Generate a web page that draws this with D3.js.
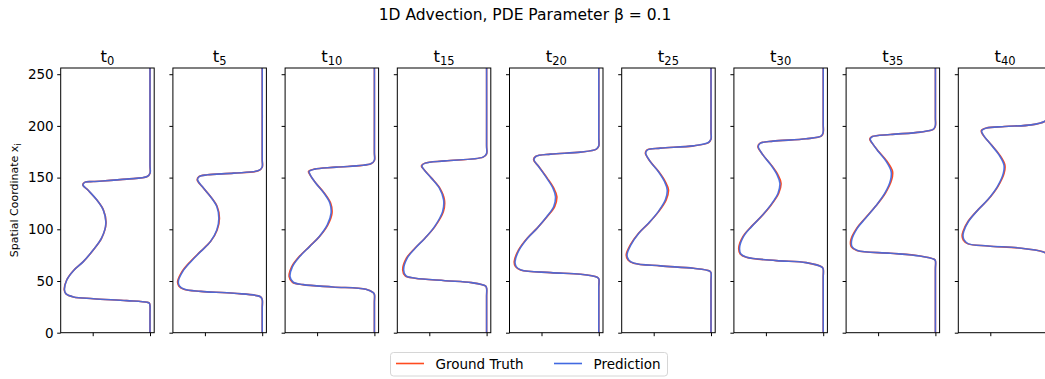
<!DOCTYPE html>
<html>
<head>
<meta charset="utf-8">
<script src="https://cdn.jsdelivr.net/npm/d3@7"></script>
<style>
  body { margin: 0; background: #fff; }
  svg { display: block; }
  text { font-family: "DejaVu Sans", sans-serif; fill: #000; }
</style>
</head>
<body>
<svg id="chart" width="1045" height="379"></svg>
<script>
// Time steps shown, one panel each
const timeSteps = [0, 5, 10, 15, 20, 25, 30, 35, 40];

// Spatial coordinates sampled along each profile (one list per time step)
const spatialPoints = [
  [0, 18, 26, 28.5, 29.4, 31, 32.9, 34.6, 37.5, 41.3, 51, 60, 68.7, 80, 91.4, 105.9, 118.8, 128.5, 137.5, 143, 145.6, 146.2, 148.5, 151, 154.3, 162, 256],
  [0, 24, 32, 34.8, 38.1, 40, 42, 45.2, 49.4, 59.1, 68.7, 78.4, 88.1, 99.4, 110.7, 122, 131.7, 141.3, 147.8, 151, 152.7, 154.3, 156.8, 160, 168, 256],
  [0, 29, 37, 38.7, 42, 44.2, 46.5, 48.8, 54.2, 63.9, 73.6, 83.3, 92.9, 104.3, 115.6, 125.3, 134.9, 144.6, 152.7, 155.9, 158.2, 160.1, 163.3, 166.5, 174.5, 256],
  [0, 35, 43, 45.2, 48.4, 50.3, 52.7, 54.9, 60.7, 72, 81.7, 91.4, 102.6, 117.1, 128.5, 139.8, 149.5, 157.5, 161.4, 164, 166.2, 169.8, 173, 181, 256],
  [0, 44, 52, 53.6, 56.5, 58.1, 60.7, 63.9, 68.7, 80.1, 91.4, 101.1, 112.3, 122, 131.7, 139.8, 149.5, 160.7, 167.2, 170.4, 172.7, 174.6, 177.5, 180.5, 188.5, 256],
  [0, 50, 58, 59.7, 62.3, 64.6, 67.2, 70.4, 75.2, 84.9, 96.2, 105.9, 117.1, 128.5, 138.1, 146.2, 155.9, 165.5, 173.7, 176.9, 178.5, 180.7, 183.9, 187, 195, 256],
  [0, 53.5, 61.5, 63.3, 67.8, 69.7, 73, 76.2, 81.7, 92.9, 102.6, 112.3, 123.6, 134.9, 144.6, 152.7, 162.3, 172, 180.1, 183.3, 185.3, 187.5, 190.4, 193.5, 201.5, 256],
  [0, 61.5, 69.5, 71, 74.2, 76.9, 79.4, 83.3, 89.7, 101.1, 110.7, 122, 134.9, 147.8, 155.9, 165.5, 175.2, 183.3, 187.2, 189.7, 191.7, 194, 196.9, 200, 208, 256],
  [0, 67, 75, 76.5, 78.4, 81.7, 83.9, 85.9, 89.7, 93.5, 97.8, 107.5, 118.8, 128.5, 141.3, 154.3, 162.3, 172, 181.7, 191.4, 195.3, 197.9, 199.4, 201, 204.3, 207, 215, 256]
];

// Ground-truth solution u(x) at each sampled coordinate
const groundTruth = [
  [1, 1, 1, 0.995, 0.976, 0.797, 0.505, 0.331, 0.267, 0.252, 0.273, 0.331, 0.418, 0.505, 0.578, 0.616, 0.593, 0.535, 0.462, 0.413, 0.433, 0.505, 0.797, 0.976, 1, 1, 1],
  [1, 1, 1, 0.985, 0.752, 0.462, 0.316, 0.272, 0.262, 0.3, 0.372, 0.46, 0.549, 0.607, 0.627, 0.607, 0.549, 0.476, 0.433, 0.447, 0.52, 0.752, 0.97, 1, 1, 1],
  [1, 1, 1, 0.99, 0.927, 0.636, 0.374, 0.285, 0.256, 0.279, 0.344, 0.433, 0.52, 0.594, 0.63, 0.618, 0.564, 0.49, 0.438, 0.425, 0.476, 0.665, 0.97, 1, 1, 1],
  [1, 1, 1, 0.99, 0.869, 0.636, 0.374, 0.29, 0.268, 0.3, 0.374, 0.462, 0.549, 0.623, 0.632, 0.592, 0.52, 0.455, 0.431, 0.462, 0.636, 0.97, 1, 1, 1],
  [1, 1, 1, 0.986, 0.84, 0.579, 0.317, 0.273, 0.262, 0.3, 0.375, 0.462, 0.55, 0.615, 0.634, 0.607, 0.55, 0.476, 0.431, 0.448, 0.579, 0.84, 0.98, 1, 1, 1],
  [1, 1, 1, 0.988, 0.848, 0.558, 0.325, 0.276, 0.26, 0.296, 0.368, 0.456, 0.543, 0.609, 0.629, 0.601, 0.543, 0.47, 0.427, 0.442, 0.558, 0.848, 0.979, 1, 1, 1],
  [1, 1, 1, 0.991, 0.852, 0.59, 0.328, 0.276, 0.263, 0.299, 0.372, 0.459, 0.546, 0.612, 0.632, 0.605, 0.546, 0.474, 0.43, 0.45, 0.561, 0.852, 0.986, 1, 1, 1],
  [1, 1, 1, 0.989, 0.866, 0.607, 0.314, 0.265, 0.262, 0.314, 0.387, 0.476, 0.563, 0.618, 0.626, 0.579, 0.505, 0.448, 0.427, 0.448, 0.607, 0.869, 0.985, 1, 1, 1],
  [1, 1, 1, 0.99, 0.959, 0.77, 0.479, 0.305, 0.264, 0.254, 0.262, 0.305, 0.392, 0.479, 0.566, 0.621, 0.627, 0.581, 0.509, 0.436, 0.421, 0.465, 0.625, 0.858, 0.974, 0.998, 1, 1]
];

// Model prediction at the same coordinates
const prediction = [
  [1, 1, 1, 0.995, 0.975, 0.795, 0.506, 0.333, 0.268, 0.254, 0.274, 0.332, 0.418, 0.504, 0.577, 0.615, 0.592, 0.535, 0.463, 0.415, 0.434, 0.506, 0.796, 0.975, 1, 1, 1],
  [1, 1, 1, 0.984, 0.755, 0.466, 0.322, 0.278, 0.268, 0.306, 0.377, 0.462, 0.548, 0.604, 0.622, 0.604, 0.548, 0.477, 0.436, 0.45, 0.523, 0.752, 0.968, 0.999, 1, 1],
  [1, 1, 1, 0.99, 0.925, 0.638, 0.38, 0.292, 0.264, 0.285, 0.348, 0.434, 0.518, 0.589, 0.622, 0.612, 0.561, 0.489, 0.44, 0.43, 0.48, 0.668, 0.968, 0.999, 1, 1],
  [1, 1, 1, 0.99, 0.868, 0.638, 0.38, 0.297, 0.276, 0.306, 0.377, 0.462, 0.546, 0.616, 0.625, 0.588, 0.518, 0.455, 0.435, 0.465, 0.638, 0.968, 0.999, 1, 1],
  [1, 1, 1, 0.985, 0.842, 0.582, 0.322, 0.279, 0.269, 0.305, 0.378, 0.462, 0.547, 0.607, 0.622, 0.6, 0.546, 0.475, 0.434, 0.45, 0.58, 0.839, 0.978, 0.999, 1, 1],
  [1, 1, 1, 0.987, 0.846, 0.561, 0.33, 0.282, 0.267, 0.301, 0.37, 0.455, 0.54, 0.602, 0.618, 0.594, 0.54, 0.47, 0.43, 0.446, 0.56, 0.846, 0.977, 0.999, 1, 1],
  [1, 1, 1, 0.99, 0.85, 0.592, 0.333, 0.282, 0.27, 0.304, 0.375, 0.459, 0.543, 0.606, 0.622, 0.598, 0.543, 0.474, 0.433, 0.452, 0.563, 0.85, 0.984, 0.999, 1, 1],
  [1, 1, 1, 0.988, 0.864, 0.61, 0.32, 0.272, 0.27, 0.319, 0.39, 0.476, 0.559, 0.609, 0.614, 0.572, 0.502, 0.449, 0.431, 0.451, 0.609, 0.867, 0.983, 0.999, 1, 1],
  [1, 1, 1, 0.99, 0.957, 0.772, 0.482, 0.31, 0.271, 0.262, 0.268, 0.309, 0.393, 0.477, 0.562, 0.614, 0.619, 0.576, 0.507, 0.438, 0.425, 0.468, 0.627, 0.856, 0.972, 0.997, 1, 1]
];

const seriesNames = ["Ground Truth", "Prediction"];
const seriesColors = ["#ff4b1f", "#4169e1"];
const spatialTicks = [0, 50, 100, 150, 200, 250];
const valueTicks = [0.5, 1.0];

const svg = d3.select("#chart");
const plotTop = 68, plotBottom = 332.7;

// One band per time step
const panel = d3.scaleBand()
  .domain(timeSteps)
  .range([60.7, 1051.8])
  .paddingInner(0.1667)
  .paddingOuter(0);
const pw = panel.bandwidth();

const y = d3.scaleLinear().domain([0, 256]).range([plotBottom, plotTop]);
const x = d3.scaleLinear().domain([0.2208, 1.0366]).range([0, pw]);

// Figure title
svg.append("text")
  .attr("x", 525).attr("y", 20)
  .attr("text-anchor", "middle")
  .style("font-size", "15.5px")
  .text("1D Advection, PDE Parameter β = 0.1");

// Shared y-axis label
const yl = svg.append("text")
  .attr("transform", `translate(18,${(plotTop + plotBottom) / 2}) rotate(-90)`)
  .attr("text-anchor", "middle")
  .style("font-size", "11px");
yl.append("tspan").text("Spatial Coordinate x");
yl.append("tspan").attr("dy", 2.5).style("font-size", "8px").text("i");

// Profiles are smooth through the sampled points
const line = d3.line()
  .x(d => x(d[1]))
  .y(d => y(d[0]))
  .curve(d3.curveCatmullRom.alpha(0.5));

timeSteps.forEach((t, i) => {
  const g = svg.append("g").attr("transform", `translate(${panel(t)},0)`);

  g.append("clipPath").attr("id", "clip" + i)
    .append("rect").attr("x", 0).attr("y", plotTop).attr("width", pw).attr("height", plotBottom - plotTop);

  const lines = g.append("g").attr("clip-path", `url(#clip${i})`);
  const truthPts = spatialPoints[i].map((s, k) => [s, groundTruth[i][k]]);
  const predPts = spatialPoints[i].map((s, k) => [s, prediction[i][k]]);
  lines.append("path").datum(truthPts)
    .attr("d", line).attr("fill", "none")
    .attr("stroke", seriesColors[0]).attr("stroke-width", 1.6);
  lines.append("path").datum(predPts)
    .attr("d", line).attr("fill", "none")
    .attr("stroke", seriesColors[1]).attr("stroke-width", 1.6).attr("stroke-opacity", 0.92);

  // Axes
  const ya = d3.axisLeft(y).tickValues(spatialTicks).tickSize(3.5).tickPadding(3.5);
  if (i > 0) ya.tickFormat("");
  const yg = g.append("g").call(ya);
  yg.select(".domain").remove();
  yg.selectAll("text").style("font-size", "13.5px");

  const xa = d3.axisBottom(x).tickValues(valueTicks).tickSize(3.5).tickFormat("");
  const xg = g.append("g").attr("transform", `translate(0,${plotBottom})`).call(xa);
  xg.select(".domain").remove();

  // Frame
  g.append("rect")
    .attr("x", 0).attr("y", plotTop).attr("width", pw).attr("height", plotBottom - plotTop)
    .attr("fill", "none").attr("stroke", "#000").attr("stroke-width", 1);

  // Panel title t with subscript step
  const tt = g.append("text")
    .attr("x", pw / 2).attr("y", 62)
    .attr("text-anchor", "middle")
    .style("font-size", "16.5px");
  tt.append("tspan").text("t");
  tt.append("tspan").attr("dy", 3).style("font-size", "11.5px").text(t);
});

// Legend
const lg = svg.append("g");
lg.append("rect")
  .attr("x", 390.5).attr("y", 352.5).attr("width", 277).attr("height", 23.5)
  .attr("rx", 3).attr("fill", "#fff").attr("stroke", "#d6d6d6").attr("stroke-width", 1);
const legendX = [396, 554];
seriesNames.forEach((name, k) => {
  lg.append("line")
    .attr("x1", legendX[k]).attr("x2", legendX[k] + 28)
    .attr("y1", 363.5).attr("y2", 363.5)
    .attr("stroke", seriesColors[k]).attr("stroke-width", 1.6);
  lg.append("text")
    .attr("x", legendX[k] + 39.5).attr("y", 368.5)
    .style("font-size", "13.5px")
    .text(name);
});
</script>
</body>
</html>
